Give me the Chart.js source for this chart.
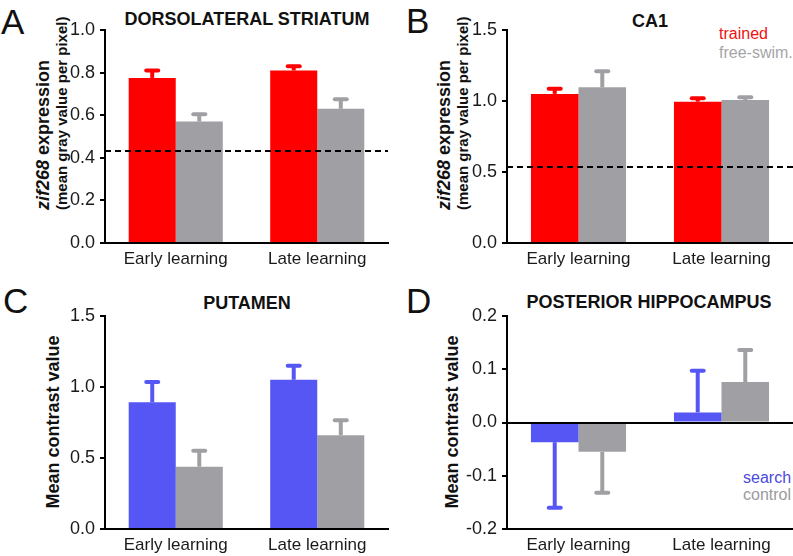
<!DOCTYPE html>
<html lang="en">
<head>
<meta charset="utf-8" />
<title>zif268 expression and contrast values</title>
<script src="https://cdn.jsdelivr.net/npm/chart.js@4.4.1/dist/chart.umd.min.js"></script>
<style>
  * { box-sizing: border-box; }
  body {
    margin: 0;
    width: 793px;
    height: 556px;
    overflow: hidden;
    position: relative;
    background: #fff;
    color: #111;
    font-family: "Liberation Sans", Arial, sans-serif;
  }
  canvas { position: absolute; }
  .letter { position: absolute; font-size: 35px; line-height: 1; }
  .title {
    position: absolute;
    font-size: 18px;
    font-weight: 700;
    line-height: 1;
    white-space: nowrap;
    transform: translateX(-50%);
  }
  .ylab {
    position: absolute;
    transform: rotate(-90deg);
    transform-origin: 0 0;
    font-weight: 700;
    white-space: nowrap;
  }
  .ylab .l1 { font-size: 18px; line-height: 20px; }
  .ylab .l2 { font-size: 15px; line-height: 18px; }
  .ylab.single { font-size: 18px; line-height: 20px; text-align: center; }
  .key { position: absolute; font-size: 16px; line-height: 19px; }
</style>
</head>
<body>
  <div class="letter" style="left:1px; top:4px;">A</div>
  <div class="letter" style="left:406px; top:3px;">B</div>
  <div class="letter" style="left:3px; top:283px;">C</div>
  <div class="letter" style="left:406px; top:283px;">D</div>

  <div class="title" style="left:247px; top:10px;">DORSOLATERAL STRIATUM</div>
  <div class="title" style="left:650px; top:12px;">CA1</div>
  <div class="title" style="left:247px; top:294px;">PUTAMEN</div>
  <div class="title" style="left:649px; top:293px;">POSTERIOR HIPPOCAMPUS</div>

  <div class="ylab" style="left:33px; top:210px; width:200px;">
    <div class="l1"><i>zif268</i> expression</div>
    <div class="l2">(mean gray value per pixel)</div>
  </div>
  <div class="ylab" style="left:434px; top:210px; width:200px;">
    <div class="l1"><i>zif268</i> expression</div>
    <div class="l2">(mean gray value per pixel)</div>
  </div>
  <div class="ylab single" style="left:43px; top:529px; width:214px;">Mean contrast value</div>
  <div class="ylab single" style="left:442px; top:529px; width:214px;">Mean contrast value</div>

  <div class="key" style="left:719px; top:24px; color:#ee1111;">trained</div>
  <div class="key" style="left:719px; top:43px; color:#a5a5a8;">free-swim.</div>
  <div class="key" style="left:743px; top:468px; color:#4b4bdc;">search</div>
  <div class="key" style="left:743px; top:485px; color:#9a9a9d;">control</div>

  <canvas id="chartA" width="345" height="254" style="left:50px; top:14px;"></canvas>
  <canvas id="chartB" width="341" height="254" style="left:452px; top:14px;"></canvas>
  <canvas id="chartC" width="345" height="254" style="left:50px; top:300px;"></canvas>
  <canvas id="chartD" width="341" height="254" style="left:452px; top:300px;"></canvas>

  <script>
    const categories = ["Early learning", "Late learning"];

    // A: dorsolateral striatum (zif268)
    const striatumTrained = [0.775, 0.81];
    const striatumTrainedErr = [0.81, 0.83];
    const striatumFreeSwim = [0.57, 0.63];
    const striatumFreeSwimErr = [0.605, 0.675];
    const striatumBaseline = 0.43;
    const striatumTicks = [0, 0.2, 0.4, 0.6, 0.8, 1.0];

    // B: CA1 (zif268)
    const ca1Trained = [1.05, 0.995];
    const ca1TrainedErr = [1.087, 1.019];
    const ca1FreeSwim = [1.096, 1.007];
    const ca1FreeSwimErr = [1.21, 1.026];
    const ca1Baseline = 0.537;
    const ca1Ticks = [0, 0.5, 1.0, 1.5];

    // C: putamen (contrast)
    const putamenSearch = [0.892, 1.051];
    const putamenSearchErr = [1.035, 1.149];
    const putamenControl = [0.439, 0.661];
    const putamenControlErr = [0.551, 0.766];
    const putamenTicks = [0, 0.5, 1.0, 1.5];

    // D: posterior hippocampus (contrast)
    const hippoSearch = [-0.037, 0.019];
    const hippoSearchErr = [-0.16, 0.097];
    const hippoControl = [-0.055, 0.076];
    const hippoControlErr = [-0.132, 0.136];
    const hippoTicks = [-0.2, -0.1, 0, 0.1, 0.2];

    const RED = "#ff0000";
    const GRAY = "#a0a0a4";
    const BLUE = "#5656f4";
    const FONT = "'Liberation Sans', Arial, sans-serif";

    // one-sided error bars + optional horizontal reference line
    const marksPlugin = {
      id: "marks",
      afterDatasetsDraw(chart, args, opts) {
        const { ctx, chartArea } = chart;
        const y = chart.scales.y;
        ctx.save();
        chart.data.datasets.forEach((ds, di) => {
          const meta = chart.getDatasetMeta(di);
          meta.data.forEach((bar, i) => {
            const yv = y.getPixelForValue(ds.data[i]);
            const ye = y.getPixelForValue(ds.errEnd[i]);
            ctx.strokeStyle = ds.backgroundColor;
            ctx.lineWidth = 4;
            ctx.lineCap = "butt";
            ctx.beginPath();
            ctx.moveTo(bar.x, yv);
            ctx.lineTo(bar.x, ye);
            ctx.stroke();
            ctx.lineCap = "round";
            ctx.beginPath();
            ctx.moveTo(bar.x - 6, ye);
            ctx.lineTo(bar.x + 6, ye);
            ctx.stroke();
          });
        });
        if (opts && opts.value != null) {
          const py = Math.round(y.getPixelForValue(opts.value));
          ctx.setLineDash(opts.dash || []);
          ctx.lineCap = "butt";
          ctx.lineWidth = 2;
          ctx.strokeStyle = "#000";
          ctx.beginPath();
          ctx.moveTo(chartArea.left, py);
          ctx.lineTo(chartArea.right, py);
          ctx.stroke();
        }
        ctx.restore();
      },
    };

    function makeChart(id, cfg) {
      new Chart(document.getElementById(id), {
        type: "bar",
        data: {
          labels: categories,
          datasets: cfg.series.map((s) => ({
            data: s.values,
            errEnd: s.err,
            backgroundColor: s.color,
            borderWidth: 0,
            barPercentage: 1.0,
            categoryPercentage: 0.665,
          })),
        },
        plugins: [marksPlugin],
        options: {
          responsive: false,
          animation: false,
          layout: { padding: { left: 5, top: 16, right: cfg.padRight, bottom: 1 } },
          plugins: {
            legend: { display: false },
            tooltip: { enabled: false },
            marks: cfg.refLine || {},
          },
          scales: {
            x: {
              afterFit: (s) => { s.height = 24; },
              border: { color: "#000", width: 2 },
              grid: { display: false, drawTicks: false },
              ticks: { color: "#1a1a1a", font: { family: FONT, size: 17 }, padding: 6 },
            },
            y: {
              min: cfg.ticks[0],
              max: cfg.ticks[cfg.ticks.length - 1],
              afterBuildTicks: (s) => { s.ticks = cfg.ticks.map((v) => ({ value: v })); },
              afterFit: (s) => { s.width = 50; },
              border: { color: "#000", width: 2 },
              grid: { drawOnChartArea: false, color: "#000", lineWidth: 2, tickLength: 5 },
              ticks: {
                color: "#1a1a1a",
                font: { family: FONT, size: 18 },
                padding: 5,
                callback: (v) => Number(v).toFixed(1),
              },
            },
          },
        },
      });
    }

    makeChart("chartA", {
      ticks: striatumTicks,
      padRight: 7,
      refLine: { value: striatumBaseline, dash: [6, 4] },
      series: [
        { values: striatumTrained, err: striatumTrainedErr, color: RED },
        { values: striatumFreeSwim, err: striatumFreeSwimErr, color: GRAY },
      ],
    });

    makeChart("chartB", {
      ticks: ca1Ticks,
      padRight: 0,
      refLine: { value: ca1Baseline, dash: [6, 4] },
      series: [
        { values: ca1Trained, err: ca1TrainedErr, color: RED },
        { values: ca1FreeSwim, err: ca1FreeSwimErr, color: GRAY },
      ],
    });

    makeChart("chartC", {
      ticks: putamenTicks,
      padRight: 7,
      series: [
        { values: putamenSearch, err: putamenSearchErr, color: BLUE },
        { values: putamenControl, err: putamenControlErr, color: GRAY },
      ],
    });

    makeChart("chartD", {
      ticks: hippoTicks,
      padRight: 0,
      refLine: { value: 0, dash: [] },
      series: [
        { values: hippoSearch, err: hippoSearchErr, color: BLUE },
        { values: hippoControl, err: hippoControlErr, color: GRAY },
      ],
    });
  </script>
</body>
</html>
